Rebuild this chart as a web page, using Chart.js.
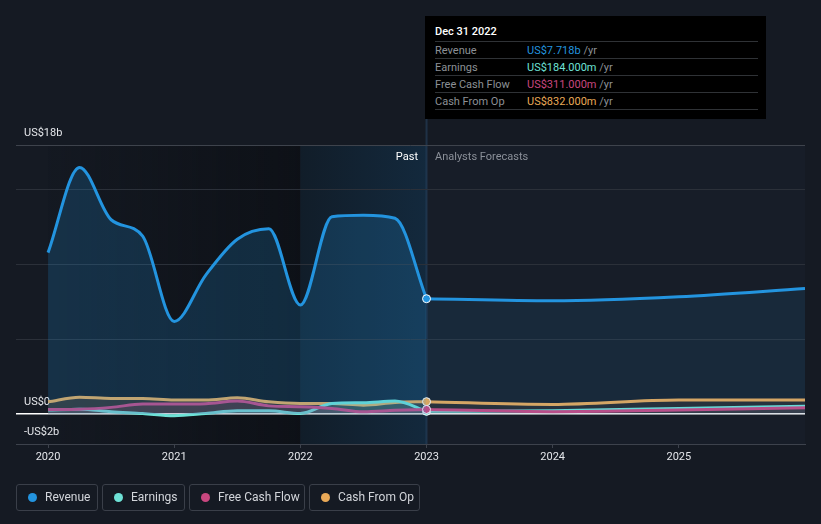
<!DOCTYPE html>
<html>
<head>
<meta charset="utf-8">
<script src="https://cdn.jsdelivr.net/npm/chart.js@4.4.1/dist/chart.umd.min.js"></script>
<style>
  html, body { margin: 0; padding: 0; background: #151a23; }
  body { width: 821px; height: 524px; position: relative; overflow: hidden; font-family: Roboto, "Noto Sans", sans-serif; }
  #wrap { position: absolute; left: 0; top: 0; width: 821px; height: 524px; }
  .tip { position: absolute; left: 425px; top: 16px; width: 341px; height: 103px; background: #000; color: #fff; font-size: 11px; }
  .tip .title { position: absolute; left: 10px; top: 9px; font-weight: 500; font-size: 11px; }
  .tip .row { position: absolute; left: 10px; width: 323px; height: 17px; line-height: 17px; border-top: 1px solid #2f3236; }
  .tip .row .lab { position: absolute; left: 0; color: #8c9096; }
  .tip .row .val { position: absolute; left: 92px; }
  .tip .row .val span { color: #8c9096; }
  .tip .end { position: absolute; left: 10px; top: 93px; width: 323px; border-top: 1px solid #2f3236; }
  .zone { position: absolute; top: 150px; font-size: 11px; }
  .legend { position: absolute; top: 484px; height: 27px; border: 1px solid #3a3f49; border-radius: 3px; box-sizing: border-box; color: #d2d5da; font-size: 12px; line-height: 25px; }
  .legend i { position: absolute; left: 11px; top: 8px; width: 9px; height: 9px; border-radius: 50%; }
  .legend b { position: absolute; left: 28px; font-weight: 400; white-space: nowrap; }
</style>
</head>
<body>
<div id="wrap"><canvas id="chart" width="821" height="524"></canvas></div>

<div class="tip">
  <div class="title">Dec 31 2022</div>
  <div class="row" style="top:25px"><div class="lab">Revenue</div><div class="val" style="color:#2394df">US$7.718b <span>/yr</span></div></div>
  <div class="row" style="top:42px"><div class="lab">Earnings</div><div class="val" style="color:#6ee2d6">US$184.000m <span>/yr</span></div></div>
  <div class="row" style="top:59px"><div class="lab">Free Cash Flow</div><div class="val" style="color:#c8477f">US$311.000m <span>/yr</span></div></div>
  <div class="row" style="top:76px"><div class="lab">Cash From Op</div><div class="val" style="color:#e9a957">US$832.000m <span>/yr</span></div></div>
  <div class="end"></div>
</div>

<div class="zone" style="left:360px; width:58px; text-align:right; color:#fff;">Past</div>
<div class="zone" style="left:435px; color:#8b9099;">Analysts Forecasts</div>

<div class="legend" style="left:16px; width:82px;"><i style="background:#2394df"></i><b>Revenue</b></div>
<div class="legend" style="left:102px; width:83px;"><i style="background:#6ee2d6"></i><b>Earnings</b></div>
<div class="legend" style="left:189px; width:116px;"><i style="background:#c8477f"></i><b>Free Cash Flow</b></div>
<div class="legend" style="left:309px; width:111px;"><i style="background:#e9a957"></i><b>Cash From Op</b></div>

<script>
// Data (US$ billions), quarterly trailing values then annual forecasts
const pastDates = [2020, 2020.25, 2020.5, 2020.75, 2021, 2021.25, 2021.5, 2021.75, 2022, 2022.25, 2022.5, 2022.75, 2023];
const revenuePast = [10.8, 16.5, 13.0, 11.9, 6.2, 9.3, 11.7, 12.4, 7.3, 13.2, 13.3, 13.1, 7.718];
const earningsPast = [0.27, 0.33, 0.16, 0.04, -0.11, 0.04, 0.22, 0.22, 0.04, 0.71, 0.76, 0.87, 0.184];
const fcfPast = [0.31, 0.33, 0.45, 0.67, 0.67, 0.7, 0.87, 0.55, 0.49, 0.38, 0.15, 0.25, 0.311];
const cfoPast = [0.82, 1.13, 1.05, 1.05, 0.94, 0.94, 1.09, 0.82, 0.71, 0.71, 0.6, 0.78, 0.832];

const forecastDates = [2023, 2024, 2025, 2026];
const revenueForecast = [7.718, 7.58, 7.85, 8.4];
const earningsForecast = [0.184, 0.22, 0.38, 0.53];
const fcfForecast = [0.311, 0.16, 0.27, 0.42];
const cfoForecast = [0.832, 0.65, 0.94, 0.94];

const yearTicks = [2020, 2021, 2022, 2023, 2024, 2025];
const yTicks = [-2, 0, 5, 10, 15, 18];
const yTickLabels = { '18': 'US$18b', '0': 'US$0', '-2': '-US$2b' };

const pastEnd = 2023;
const blueStart = 2022;

const colors = {
    revenue: '#2394df',
    earnings: '#6ee2d6',
    fcf: '#c8477f',
    cfo: '#e9a957'
};

function pts(xs, ys) {
    return xs.map((x, i) => ({ x: x, y: ys[i] }));
}

function rgba(hex, a) {
    const n = parseInt(hex.slice(1), 16);
    return `rgba(${n >> 16}, ${(n >> 8) & 255}, ${n & 255}, ${a})`;
}

function series(label, xs, ys, color, width, fillAlpha, marker) {
    return {
        label: label,
        data: pts(xs, ys),
        borderColor: color,
        backgroundColor: rgba(color, fillAlpha),
        borderWidth: width,
        fill: 'origin',
        cubicInterpolationMode: 'monotone',
        pointRadius: marker ? (ctx => ctx.dataIndex === xs.length - 1 ? 4 : 0) : 0,
        pointBackgroundColor: color,
        pointBorderColor: '#ffffff',
        pointBorderWidth: 1
    };
}

// Background zones: past (dark), last year (blue), forecast (slightly lighter)
const zonesPlugin = {
    id: 'zones',
    beforeDraw(chart) {
        const { ctx, chartArea, scales } = chart;
        const x0 = scales.x.getPixelForValue(2020);
        const x1 = scales.x.getPixelForValue(blueStart);
        const x2 = scales.x.getPixelForValue(pastEnd);
        const top = chartArea.top, bottom = chartArea.bottom, h = bottom - top;
        ctx.save();
        ctx.fillStyle = '#171d28';
        ctx.fillRect(x2, top, chartArea.right - x2, h);

        let g = ctx.createLinearGradient(x0, 0, x1, 0);
        g.addColorStop(0, 'rgba(8, 10, 14, 0.05)');
        g.addColorStop(1, 'rgba(8, 10, 14, 0.55)');
        ctx.fillStyle = g;
        ctx.fillRect(x0, top, x1 - x0, h);

        g = ctx.createLinearGradient(x1, 0, x2, 0);
        g.addColorStop(0, '#111d29');
        g.addColorStop(1, '#13293d');
        ctx.fillStyle = g;
        ctx.fillRect(x1, top, x2 - x1, h);

        // marker line up to the tooltip
        ctx.fillStyle = 'rgba(40, 70, 100, 0.55)';
        ctx.fillRect(x2 - 1, 119, 2, bottom - 119);
        ctx.restore();
    }
};

new Chart(document.getElementById('chart'), {
    type: 'line',
    data: {
        datasets: [
            series('Revenue', pastDates, revenuePast, colors.revenue, 3, 0.2, true),
            series('Revenue forecast', forecastDates, revenueForecast, colors.revenue, 3, 0.1, false),
            series('Free Cash Flow', pastDates, fcfPast, colors.fcf, 3, 0.15, true),
            series('Free Cash Flow forecast', forecastDates, fcfForecast, colors.fcf, 3, 0.08, false),
            series('Earnings', pastDates, earningsPast, colors.earnings, 3, 0.15, true),
            series('Earnings forecast', forecastDates, earningsForecast, colors.earnings, 3, 0.08, false),
            series('Cash From Op', pastDates, cfoPast, colors.cfo, 3, 0.15, true),
            series('Cash From Op forecast', forecastDates, cfoForecast, colors.cfo, 3, 0.08, false)
        ]
    },
    options: {
        responsive: false,
        animation: false,
        layout: { padding: { left: 16, right: 16, top: 145, bottom: 56 } },
        plugins: { legend: { display: false }, tooltip: { enabled: false } },
        scales: {
            x: {
                type: 'linear',
                min: 2019.746,
                max: 2026,
                afterBuildTicks: s => { s.ticks = yearTicks.map(v => ({ value: v })); },
                afterFit: s => { s.height = 24; },
                ticks: {
                    color: '#e4e6ea',
                    font: { family: 'Roboto', size: 11 },
                    padding: 3,
                    maxRotation: 0,
                    callback: v => String(v)
                },
                grid: { drawOnChartArea: false, drawTicks: true, tickLength: 4, color: '#3d424c' },
                border: { display: true, color: '#3d424c', width: 1 }
            },
            y: {
                min: -2,
                max: 18,
                afterBuildTicks: s => { s.ticks = yTicks.map(v => ({ value: v })); },
                afterFit: s => { s.width = 0; },
                ticks: {
                    mirror: true,
                    padding: 8,
                    labelOffset: -12,
                    color: '#e4e6ea',
                    font: { family: 'Roboto', size: 11 },
                    callback: v => yTickLabels[String(v)] || ''
                },
                grid: {
                    drawTicks: false,
                    color: ctx => ctx.tick.value === 0 ? '#ffffff' : (ctx.tick.value === 18 ? '#3e434c' : '#2b3039'),
                    lineWidth: ctx => ctx.tick.value === 0 ? 1.5 : 1
                },
                border: { display: false }
            }
        }
    },
    plugins: [zonesPlugin]
});
</script>
</body>
</html>
